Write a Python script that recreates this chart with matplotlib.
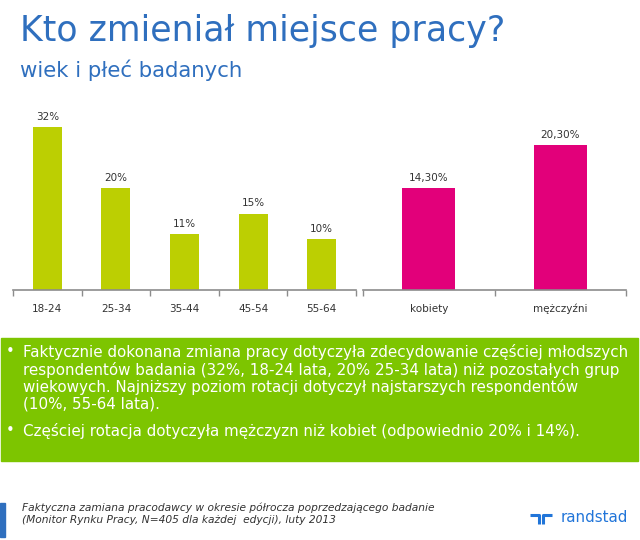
import matplotlib
matplotlib.use("Agg")
import matplotlib.pyplot as plt
from matplotlib.patches import Rectangle
from matplotlib.lines import Line2D

# ── Data ──────────────────────────────────────────────────────────────────────
age_groups = ["18-24", "25-34", "35-44", "45-54", "55-64"]
age_values = [32, 20, 11, 15, 10]
age_labels = ["32%", "20%", "11%", "15%", "10%"]

genders = ["kobiety", "mężczyźni"]
gender_values = [14.3, 20.3]
gender_labels = ["14,30%", "20,30%"]

title = "Kto zmieniał miejsce pracy?"
subtitle = "wiek i płeć badanych"
bullets = [
    "Faktycznie dokonana zmiana pracy dotyczyła zdecydowanie częściej młodszych\n"
    "respondentów badania (32%, 18-24 lata, 20% 25-34 lata) niż pozostałych grup\n"
    "wiekowych. Najniższy poziom rotacji dotyczył najstarszych respondentów\n"
    "(10%, 55-64 lata).",
    "Częściej rotacja dotyczyła mężczyzn niż kobiet (odpowiednio 20% i 14%).",
]
footnote = ("Faktyczna zamiana pracodawcy w okresie półrocza poprzedzającego badanie\n"
            "(Monitor Rynku Pracy, N=405 dla każdej  edycji), luty 2013")

# ── Style ─────────────────────────────────────────────────────────────────────
BLUE = "#2F6FBE"
GREEN_BAR = "#BCCF02"
PINK = "#E2007A"
BOX_GREEN = "#7DC500"
AXIS_GRAY = "#8C8C8C"
TEXT_DARK = "#333333"
LOGO = "#2175D9"
W, H = 640, 540

plt.rcParams["font.family"] = ["DejaVu Sans"]

fig = plt.figure(figsize=(W / 100, H / 100), dpi=100)


def fx(px):
    return px / W


def fy(py):
    return 1 - py / H


def bar_panel(rect, cats, vals, labels, color, ymax, width):
    ax = fig.add_axes(rect)
    xs = range(len(cats))
    bars = ax.bar(xs, vals, width=width, color=color, zorder=2)
    for b, lab in zip(bars, labels):
        ax.annotate(lab, (b.get_x() + b.get_width() / 2, b.get_height()),
                    xytext=(0, 4), textcoords="offset points",
                    ha="center", va="bottom", fontsize=7.5, color=TEXT_DARK)
    ax.set_xlim(-0.5, len(cats) - 0.5)
    ax.set_ylim(0, ymax)
    for s in ("top", "right", "left"):
        ax.spines[s].set_visible(False)
    ax.spines["bottom"].set_color(AXIS_GRAY)
    ax.spines["bottom"].set_linewidth(1.2)
    ax.set_yticks([])
    ax.set_xticks(list(xs))
    ax.set_xticklabels(cats, fontsize=7.5, color=TEXT_DARK)
    ax.tick_params(axis="x", which="major", length=0, pad=10)
    ax.set_xticks([i - 0.5 for i in range(len(cats) + 1)], minor=True)
    ax.tick_params(axis="x", which="minor", length=4, width=1, color=AXIS_GRAY)
    return ax


top, base = 112, 290
bar_panel([fx(13), fy(base), fx(343), (base - top) / H],
          age_groups, age_values, age_labels, GREEN_BAR, 35, 0.42)
bar_panel([fx(363), fy(base), fx(263), (base - top) / H],
          genders, gender_values, gender_labels, PINK, 25, 0.40)

# ── Titles ────────────────────────────────────────────────────────────────────
fig.text(fx(20), fy(31), title, fontsize=25, color=BLUE, va="center", ha="left")
fig.text(fx(20), fy(70), subtitle, fontsize=15.3, color=BLUE, va="center", ha="left")

# ── Green summary box ─────────────────────────────────────────────────────────
fig.add_artist(Rectangle((fx(1), fy(461)), fx(637), (461 - 338) / H,
                         transform=fig.transFigure, color=BOX_GREEN, zorder=0))
bullet_y = [344, 423]
for by, txt in zip(bullet_y, bullets):
    fig.text(fx(6), fy(by), "•", fontsize=10.5, color="white", va="top", ha="left")
    fig.text(fx(23), fy(by), txt, fontsize=10.9, color="white", va="top",
             ha="left", linespacing=1.13)

# ── Footnote & logo ───────────────────────────────────────────────────────────
fig.add_artist(Rectangle((0, fy(537)), fx(5), 34 / H,
                         transform=fig.transFigure, color=BLUE))
fig.text(fx(22), fy(514), footnote, fontsize=7.7, style="italic",
         color=TEXT_DARK, va="center", ha="left", linespacing=1.2)

for xs_, ys_ in [([530, 539, 539], [515, 515, 524]),
                 ([543, 543, 552], [524, 515, 515])]:
    fig.add_artist(Line2D([fx(v) for v in xs_], [fy(v) for v in ys_],
                          transform=fig.transFigure, color=LOGO, linewidth=2.2,
                          solid_joinstyle="round", solid_capstyle="butt"))
fig.text(fx(561), fy(517), "randstad", fontsize=10.8, color=LOGO,
         va="center", ha="left")

fig.savefig("out.png", dpi=100)
